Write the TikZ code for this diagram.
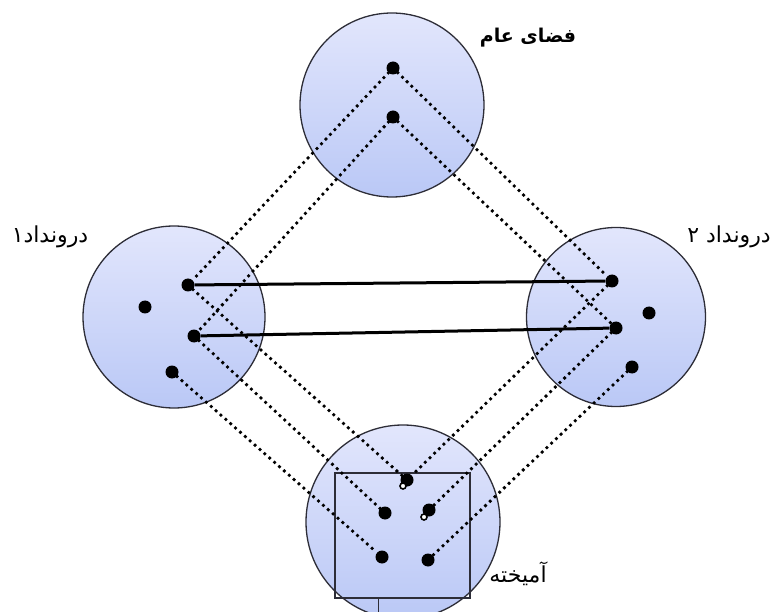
\documentclass[tikz,border=0pt]{standalone}
\usepackage{fontspec}
\newfontfamily\fafont[Script=Arabic]{DejaVu Sans}
\TeXXeTstate=1
\usetikzlibrary{positioning}
\definecolor{rimc}{RGB}{45,45,55}
\definecolor{fillhi}{RGB}{226,230,252}
\definecolor{filllo}{RGB}{186,200,246}
\tikzset{sp/.style={circle,draw=rimc,line width=1.3pt,top color=fillhi,bottom color=filllo,inner sep=0pt},
 pnt/.style={circle,fill=black,inner sep=0pt,minimum size=13pt},
 lnk/.style={line width=3.8pt,line cap=round,dash pattern=on 0pt off 6.5pt},
 cnt/.style={line width=3pt},
 hole/.style={circle,draw=black,fill=white,line width=1.6pt,inner sep=0pt,minimum size=6pt},
 lbl/.style={font=\fafont\fontsize{22}{26}\selectfont,inner sep=0pt}}
\begin{document}
\begin{tikzpicture}[x=1pt,y=-1pt]
\clip (0,0) rectangle (771,612);
\node[sp,minimum size=184pt](pub) at (392,105){};
\node[sp,minimum size=182pt](inA) at (174,317){};
\node[sp,minimum size=179pt](inB) at (616,317){};
\node[sp,minimum size=194pt](mix) at (403,522){};
\node[draw=rimc,line width=1.3pt,minimum width=135pt,minimum height=125pt,inner sep=0pt](box) at (402.5,535.5){};
\draw[rimc,line width=0.6pt](378,598)--(378,612);
\node[pnt](t1) at (393,68){};\node[pnt](t2) at (393,117){};
\node[pnt](a1) at (188,285){};\node[pnt](a2) at (145,307){};\node[pnt](a3) at (194,336){};\node[pnt](a4) at (172,372){};
\node[pnt](b1) at (612,281){};\node[pnt](b2) at (649,313){};\node[pnt](b3) at (616,328){};\node[pnt](b4) at (632,367){};
\node[pnt](m1) at (407,480){};\node[pnt](m2) at (385,513){};\node[pnt](m3) at (429,510){};
\node[pnt](m4) at (382,557){};\node[pnt](m5) at (428,560){};
\foreach \u/\v in {t1/a1,t2/a3,t1/b1,t2/b3,a1/m1,a3/m2,a4/m4,b1/m1,b3/m3,b4/m5}\draw[lnk](\u)--(\v);
\draw[cnt](a1)--(b1);\draw[cnt](a3)--(b3);
\node[hole](h1) at (403,486){};\node[hole](h3) at (424,517){};
\node[lbl,font=\fafont\bfseries\fontsize{19}{23}\selectfont](lpub) at (528,38){\beginR فضای عام\endR};
\node[lbl](linA) at (50,237){\beginR درونداد۱\endR};
\node[lbl](linB) at (729,237){\beginR درونداد ۲\endR};
\node[lbl](lmix) at (518,574){\beginR آمیخته\endR};
\end{tikzpicture}
\end{document}
